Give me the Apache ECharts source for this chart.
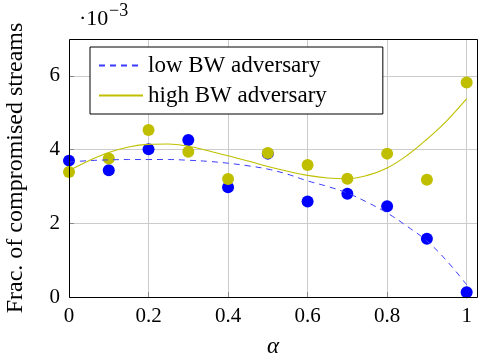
<!DOCTYPE html>
<html lang="en">
<head>
    <meta charset="UTF-8">
    <title>Frac. of compromised streams</title>
    <script src="https://cdn.jsdelivr.net/npm/echarts@6/dist/echarts.min.js"></script>
    <style type="text/css">
        html, body { margin: 0; padding: 0; background: #fff; }
        #pic { width: 479px; height: 363px; }
    </style>
</head>
<body>
<div id="pic"></div>
<script type="text/javascript">
    // measured points (x 1e-3)
    var alphas = [0, 0.1, 0.2, 0.3, 0.4, 0.5, 0.6, 0.7, 0.8, 0.9, 1.0];
    var lowPoints = [3.70, 3.44, 4.01, 4.26, 2.98, 3.89, 2.59, 2.80, 2.46, 1.58, 0.13];
    var highPoints = [3.39, 3.76, 4.53, 3.94, 3.20, 3.91, 3.58, 3.21, 3.89, 3.18, 5.82];

    // fitted curves
    var fitAlphas = [0, 0.05, 0.1, 0.15, 0.2, 0.25, 0.3, 0.35, 0.4, 0.45, 0.5,
        0.55, 0.6, 0.65, 0.7, 0.75, 0.8, 0.85, 0.9, 0.95, 1.0];
    var lowFit = [3.66, 3.70, 3.72, 3.73, 3.73, 3.73, 3.71, 3.68, 3.63, 3.56, 3.47,
        3.33, 3.15, 3.00, 2.82, 2.57, 2.28, 1.92, 1.52, 0.98, 0.33];
    var highFit = [3.43, 3.70, 3.92, 4.07, 4.14, 4.15, 4.09, 3.97, 3.83, 3.69, 3.54,
        3.41, 3.30, 3.23, 3.21, 3.30, 3.50, 3.84, 4.28, 4.78, 5.38];

    var xTicks = ['0', '0.2', '0.4', '0.6', '0.8', '1'];

    var blue = '#0000ff';
    var olive = '#bfbf00';
    var font = 'Liberation Serif';

    function pairs(xs, ys) {
        return xs.map(function (x, i) { return [x, ys[i]]; });
    }

    var dom = document.getElementById('pic');
    var myChart = echarts.init(dom, null, {renderer: 'canvas'});
    var option = {
        animation: false,
        textStyle: {fontFamily: font, color: '#000'},
        grid: {left: 69, right: 2, top: 39, bottom: 66, containLabel: false, outerBoundsMode: 'none'},
        legend: {
            data: ['low BW adversary', 'high BW adversary'],
            orient: 'vertical',
            left: 90,
            top: 47,
            padding: [7, 56, 7, 8],
            itemGap: 7,
            itemWidth: 44,
            itemHeight: 16,
            borderColor: '#000',
            borderWidth: 1,
            backgroundColor: '#fff',
            itemStyle: {opacity: 0},
            textStyle: {fontFamily: font, fontSize: 23, color: '#000'}
        },
        xAxis: {
            type: 'value',
            min: 0,
            max: 1.026,
            interval: 0.2,
            name: 'α',
            nameLocation: 'middle',
            nameGap: 38,
            nameTextStyle: {fontFamily: font, fontSize: 23, fontStyle: 'italic', color: '#000'},
            axisLine: {show: false},
            axisTick: {show: true, inside: true, length: 5, lineStyle: {color: '#888'}},
            axisLabel: {
                showMaxLabel: false,
                margin: 9,
                fontFamily: font, fontSize: 21, color: '#000',
                formatter: function (v) {
                    var i = Math.round(v / 0.2);
                    return Math.abs(v - i * 0.2) < 1e-6 ? xTicks[i] : '';
                }
            },
            splitLine: {show: true, lineStyle: {color: '#cccccc', width: 1}}
        },
        yAxis: {
            type: 'value',
            min: 0,
            max: 7,
            interval: 2,
            name: 'Frac. of compromised streams',
            nameLocation: 'middle',
            nameGap: 41,
            nameTextStyle: {fontFamily: font, fontSize: 24, color: '#000'},
            axisLine: {show: false},
            axisTick: {show: true, inside: true, length: 5, lineStyle: {color: '#888'}},
            axisLabel: {showMaxLabel: false, margin: 9, fontFamily: font, fontSize: 21, color: '#000'},
            splitLine: {show: true, lineStyle: {color: '#cccccc', width: 1}}
        },
        graphic: [
            {
                type: 'rect',
                shape: {x: 69.5, y: 39.5, width: 408, height: 258},
                style: {fill: 'none', stroke: '#000', lineWidth: 1},
                silent: true,
                z: 100
            },
            {
                type: 'text',
                left: 79,
                top: 8,
                style: {text: '·10', font: '22px "Liberation Serif"', fill: '#000'},
                silent: true
            },
            {
                type: 'text',
                left: 109,
                top: 2,
                style: {text: '−3', font: '18px "Liberation Serif"', fill: '#000'},
                silent: true
            }
        ],
        series: [
            {
                name: 'low points',
                type: 'scatter',
                symbolSize: 12,
                itemStyle: {color: blue, opacity: 1},
                data: pairs(alphas, lowPoints),
                z: 3
            },
            {
                name: 'high points',
                type: 'scatter',
                symbolSize: 12,
                itemStyle: {color: olive, opacity: 1},
                data: pairs(alphas, highPoints),
                z: 4
            },
            {
                name: 'low BW adversary',
                type: 'line',
                smooth: 0.4,
                symbol: 'none',
                lineStyle: {color: '#3b3bff', width: 1, type: [6, 5]},
                itemStyle: {color: '#3b3bff'},
                data: pairs(fitAlphas, lowFit),
                z: 5
            },
            {
                name: 'high BW adversary',
                type: 'line',
                smooth: 0.4,
                symbol: 'none',
                lineStyle: {color: olive, width: 1.1},
                itemStyle: {color: olive},
                data: pairs(fitAlphas, highFit),
                z: 6
            }
        ]
    };
    myChart.setOption(option);
</script>
</body>
</html>
